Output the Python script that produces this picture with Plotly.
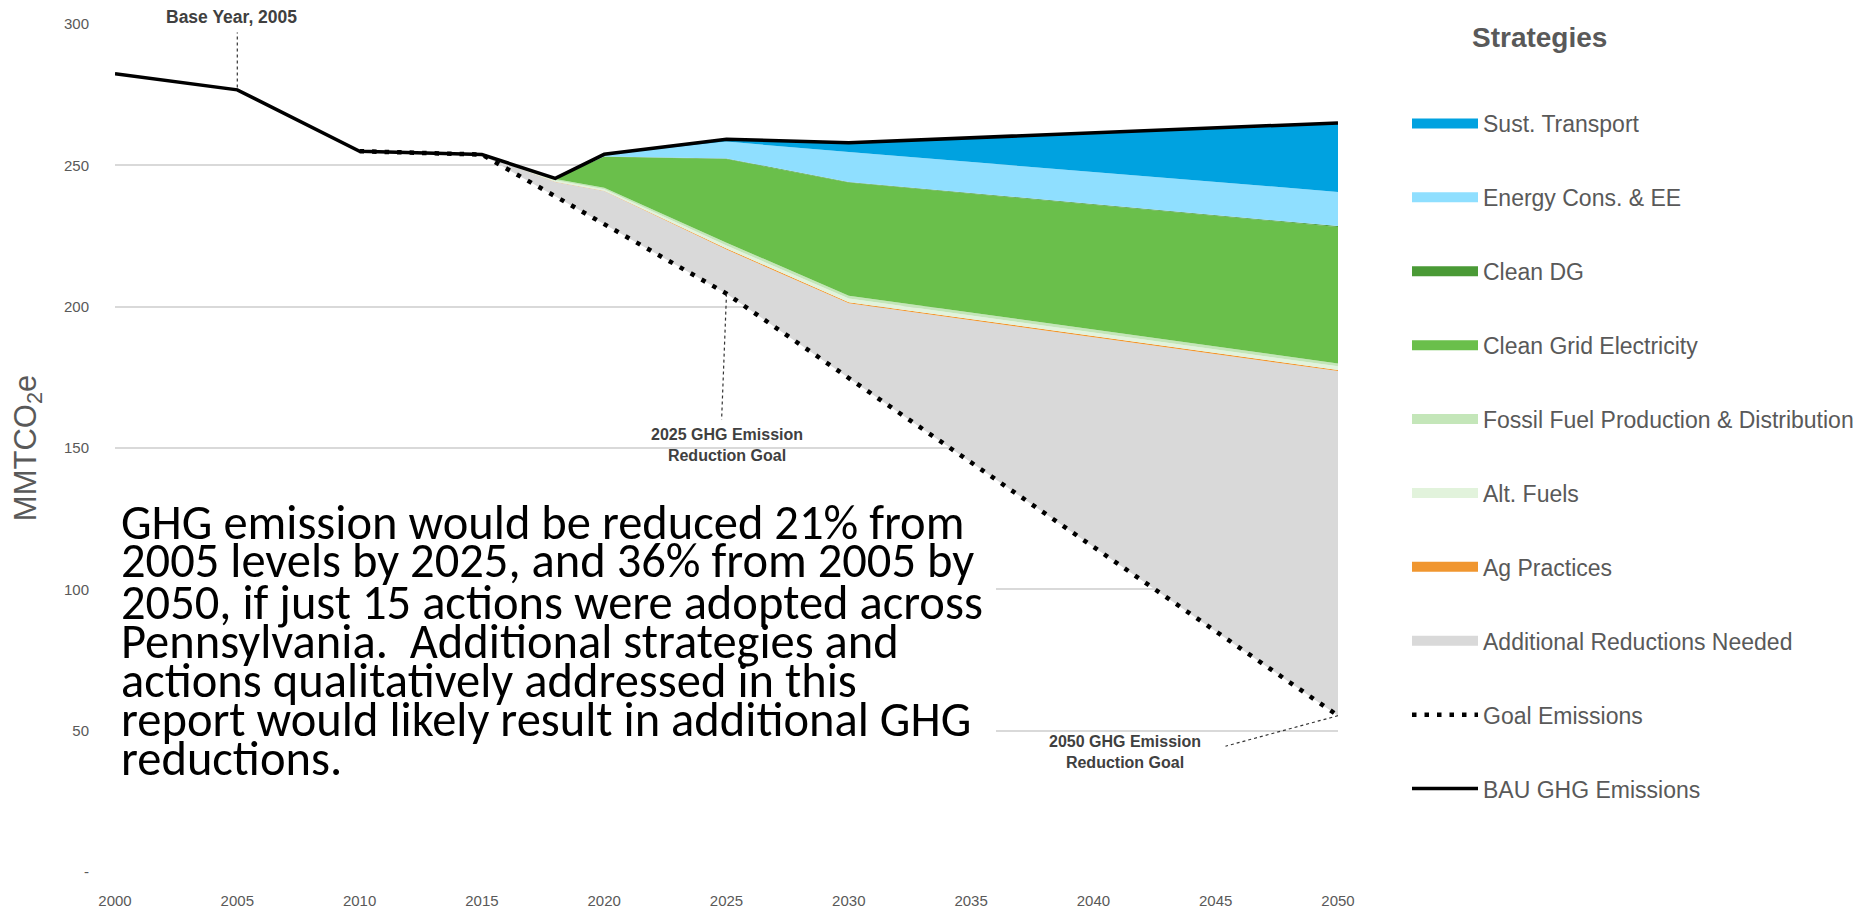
import plotly.graph_objects as go

# ---------------- data ----------------
years_bau = [2000, 2005, 2010, 2015, 2018, 2020, 2025, 2030, 2050]
bau_emissions = [282.4, 276.7, 255.0, 253.8, 245.4, 253.9, 259.2, 258.0, 265.0]

years_goal = [2010, 2015, 2025, 2050]
goal_emissions = [255.0, 253.8, 204.6, 55.3]

years_wedge = [2015, 2018, 2020, 2025, 2030, 2050]
sust_transport = [0, 0, 0.2, 0.8, 3.3, 24.4]
energy_cons = [0, 0, 0.6, 6.0, 10.6, 12.1]
clean_dg = [0, 0, 0.1, 0.2, 0.2, 0.3]
clean_grid = [0, 0.2, 10.9, 29.6, 40.0, 48.3]
fossil_fuel = [0, 0.5, 0.6, 1.0, 1.0, 1.0]
alt_fuels = [0, 0.5, 0.5, 1.0, 1.3, 1.3]
ag_practices = [0, 0.1, 0.1, 0.4, 0.4, 0.4]

x_ticks = [2000, 2005, 2010, 2015, 2020, 2025, 2030, 2035, 2040, 2045, 2050]
y_ticks = [0, 50, 100, 150, 200, 250, 300]
y_ticktext = ["-", "50", "100", "150", "200", "250", "300"]

text_lines = [
    "GHG emission would be reduced 21% from",
    "2005 levels by 2025, and 36% from 2005 by",
    "2050, if just 15 actions were adopted across",
    "Pennsylvania.  Additional strategies and",
    "actions qualitatively addressed in this",
    "report would likely result in additional GHG",
    "reductions.",
]

# ---------------- layout constants (page pixels) ----------------
OFF = 8                      # default body margin of the page
FW, FH = 1853, 901
L, R, T, B = 107, 523, 16, 37
PW, PH = FW - L - R, FH - T - B
PLOT_LEFT = OFF + L          # page x of plot left edge
PLOT_BOTTOM = OFF + T + PH   # page y of plot bottom edge
SANS = "Liberation Sans, Arial, sans-serif"
GRAY = "#595959"
DARK = "#404040"

def px_x(xr):
    return (xr - PLOT_LEFT) / PW

def px_y(yr):
    return (PLOT_BOTTOM - yr) / PH

# BAU at wedge years
bau_at = {y: v for y, v in zip(years_bau, bau_emissions)}
bau_w = [bau_at[y] for y in years_wedge]

layers = [  # top to bottom
    ("Sust. Transport", sust_transport, "#00a2e0"),
    ("Energy Cons. & EE", energy_cons, "#8fdfff"),
    ("Clean DG", clean_dg, "#4a9a36"),
    ("Clean Grid Electricity", clean_grid, "#6abf4b"),
    ("Fossil Fuel Production & Distribution", fossil_fuel, "#c4e6b9"),
    ("Alt. Fuels", alt_fuels, "#e2f3dc"),
    ("Ag Practices", ag_practices, "#f0962f"),
]
GRAY_FILL = "#d9d9d9"

tops = []
cur = list(bau_w)
for name, vals, col in layers:
    tops.append((name, list(cur), col))
    cur = [c - v for c, v in zip(cur, vals)]
gray_top = cur

fig = go.Figure()

g_idx = years_goal.index(2015)
fig.add_trace(go.Scatter(x=years_goal[g_idx:], y=goal_emissions[g_idx:], mode="lines",
                         line=dict(width=0, color="rgba(0,0,0,0)"), showlegend=False,
                         hoverinfo="skip"))
fig.add_trace(go.Scatter(x=years_wedge, y=gray_top, mode="lines", fill="tonexty",
                         fillcolor=GRAY_FILL, line=dict(width=0, color=GRAY_FILL),
                         name="Additional Reductions Needed", showlegend=False,
                         legendgroup="g8"))
rank = {name: i + 1 for i, (name, _, _) in enumerate(layers)}
for name, top, col in reversed(tops):
    fig.add_trace(go.Scatter(x=years_wedge, y=top, mode="lines", fill="tonexty",
                             fillcolor=col, line=dict(width=0, color=col),
                             name=name, showlegend=False,
                             legendgroup="g%d" % rank[name]))

# legend keys (wide colour blocks, as in the original legend)
for name, _, col in layers + [("Additional Reductions Needed", None, GRAY_FILL)]:
    r = rank.get(name, 8)
    fig.add_trace(go.Scatter(x=[None], y=[None], mode="lines",
                             line=dict(color=col, width=14), name=name,
                             legendrank=r, legendgroup="g%d" % r, hoverinfo="skip"))

fig.add_trace(go.Scatter(x=years_goal, y=goal_emissions, mode="lines",
                         line=dict(color="black", width=4.5, dash="4.5px,8px"),
                         name="Goal Emissions", legendrank=9, legendgroup="g9"))
fig.add_trace(go.Scatter(x=years_bau, y=bau_emissions, mode="lines",
                         line=dict(color="black", width=3.5),
                         name="BAU GHG Emissions", legendrank=10, legendgroup="g10"))

box_right_year = 2000 + (996 - PLOT_LEFT) / PW * 50
box_top_value = (PLOT_BOTTOM - 463) / PH * 300

shapes = [
    # white text box background hiding gridlines (between grid and traces)
    dict(type="rect", xref="x", yref="y", x0=1999, x1=box_right_year,
         y0=-10, y1=box_top_value, fillcolor="white", line=dict(width=0),
         layer="between"),
    # leader lines
    dict(type="line", xref="x", yref="y", x0=2005, y0=277.5, x1=2005, y1=297,
         line=dict(color="#333333", width=1.2, dash="dot")),
    dict(type="line", xref="x", yref="y", x0=2025, y0=204.6, x1=2024.8, y1=160,
         line=dict(color="#333333", width=1.2, dash="dot")),
    dict(type="line", xref="x", yref="y", x0=2050, y0=55.3, x1=2045.4, y1=44.5,
         line=dict(color="#333333", width=1.2, dash="dot")),
]

ann_font = dict(family=SANS, size=16, color=DARK)
annotations = [
    dict(x=2004.75, y=px_y(17), xref="x", yref="paper", text="<b>Base Year, 2005</b>",
         showarrow=False, xanchor="center", yanchor="middle",
         font=dict(family=SANS, size=17.5, color=DARK)),
    dict(x=2025, y=151, xref="x", yref="y", text="<b>2025 GHG Emission<br>Reduction Goal</b>",
         showarrow=False, xanchor="center", yanchor="middle", font=ann_font),
    dict(x=2041.3, y=42.5, xref="x", yref="y", text="<b>2050 GHG Emission<br>Reduction Goal</b>",
         showarrow=False, xanchor="center", yanchor="middle", font=ann_font),
    dict(x=px_x(1540), y=px_y(38), xref="paper", yref="paper", text="<b>Strategies</b>",
         showarrow=False, xanchor="center", yanchor="middle",
         font=dict(family=SANS, size=28, color=GRAY)),
]

line_y = [522, 561, 602, 641, 680, 719, 758]
for t, yr in zip(text_lines, line_y):
    annotations.append(dict(x=px_x(119), y=px_y(yr), xref="paper", yref="paper", text=t,
                            showarrow=False, xanchor="left", yanchor="middle",
                            font=dict(family="Carlito, Calibri, Open Sans, sans-serif",
                                      size=48.5, color="black")))

fig.update_layout(
    width=FW, height=FH,
    margin=dict(l=L, r=R, t=T, b=B),
    plot_bgcolor="white", paper_bgcolor="white",
    shapes=shapes, annotations=annotations,
    showlegend=True,
    legend=dict(xref="container", yref="container", x=(1407 - OFF) / FW,
                y=1 - (102 - OFF) / FH, xanchor="left", yanchor="top",
                traceorder="grouped", tracegroupgap=41, maxheight=880,
                font=dict(family=SANS, size=23, color=GRAY), bgcolor="rgba(0,0,0,0)",
                itemwidth=66),
    xaxis=dict(range=[2000, 2050], tickvals=x_ticks, showgrid=False, zeroline=False,
               showline=False, ticks="", ticklabelstandoff=18, automargin=False,
               tickfont=dict(family=SANS, size=15, color=GRAY)),
    yaxis=dict(range=[0, 300], tickvals=y_ticks, ticktext=y_ticktext, showgrid=True,
               gridcolor="#d9d9d9", gridwidth=1.5, zeroline=False, showline=False,
               ticks="", ticklabelstandoff=25, automargin=False,
               tickfont=dict(family=SANS, size=15, color=GRAY),
               title=dict(text="MMTCO<sub>2</sub>e", standoff=20,
                          font=dict(family=SANS, size=31, color=GRAY))),
)

fig.write_html("out.html")
